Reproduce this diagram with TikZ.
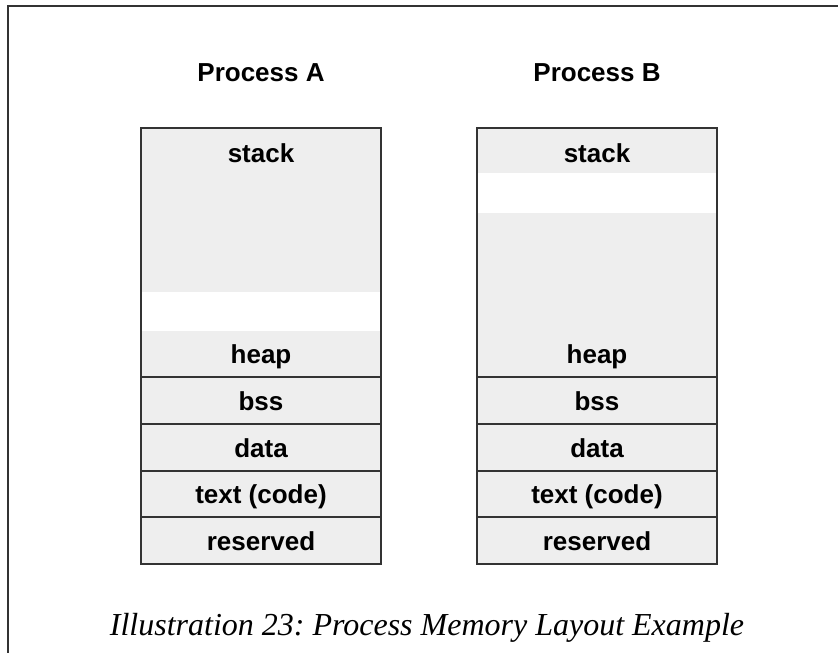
\documentclass[tikz,border=0pt]{standalone}
\usepackage{fontspec}
\setmainfont{Liberation Serif}
\setsansfont{Liberation Sans}
\definecolor{cellgray}{HTML}{EEEEEE}
\definecolor{edgegray}{HTML}{333333}
\tikzset{
  edge/.style={draw=edgegray, line width=1.5pt},
  cellname/.style={anchor=base, inner sep=0pt, font=\sffamily\bfseries\fontsize{26}{30}\selectfont},
  title/.style={cellname}
}
\frenchspacing
\begin{document}
\begin{tikzpicture}[x=1pt,y=-1pt]
	\useasboundingbox (0,0) rectangle (838,653);
	\draw[edgegray, line width=1.2pt] (838,6)--(8,6)--(8,653);
	% process A
	\fill[cellgray] (141,128) rectangle (381,292);
	\fill[cellgray] (141,331) rectangle (381,377);
	% process B
	\fill[cellgray] (477,128) rectangle (717,173);
	\fill[cellgray] (477,213) rectangle (717,377);
	\foreach \x in {141,477} {
		\fill[cellgray] (\x,377) rectangle ++(240,187);
		\foreach \y in {377,424,471,517}
			\draw[edge] (\x,\y) -- ++(240,0);
		\draw[edge] (\x,128) rectangle ++(240,436);
	}
	\node[title] (procA) at (261,81) {Process A};
	\node[title] (procB) at (597,81) {Process B};
	\foreach \p/\x in {A/261,B/597}
		\foreach \n/\t/\y in {stk/stack/162, heap/heap/363, bss/bss/410, data/data/457, code/text (code)/503, rsv/reserved/550}
			\node[cellname] (\p-\n) at (\x,\y) {\t};
	\node[anchor=base, inner sep=0pt, font=\itshape\fontsize{32}{38}\selectfont] (caption) at (427,635) {Illustration 23: Process Memory Layout Example};
\end{tikzpicture}
\end{document}
